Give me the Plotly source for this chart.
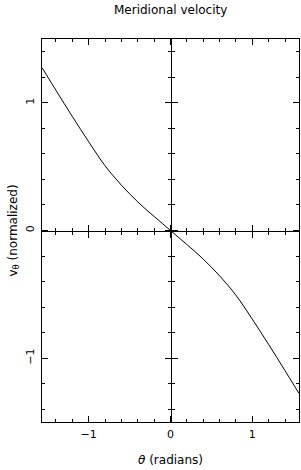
import plotly.graph_objects as go

theta = [-1.5708, -1.5, -1.4, -1.3, -1.2, -1.1, -1.0, -0.9, -0.8, -0.7, -0.6, -0.5,
         -0.4, -0.3, -0.2, -0.1, 0.0, 0.1, 0.2, 0.3, 0.4, 0.5, 0.6, 0.7, 0.8, 0.9,
         1.0, 1.1, 1.2, 1.3, 1.4, 1.5, 1.5708]
v_theta = [1.276, 1.202, 1.098, 0.995, 0.893, 0.793, 0.695, 0.598, 0.507, 0.428, 0.355, 0.287,
           0.224, 0.165, 0.11, 0.055, 0.0, -0.055, -0.11, -0.165, -0.224, -0.287, -0.355,
           -0.428, -0.507, -0.598, -0.695, -0.793, -0.893, -0.995, -1.098, -1.202, -1.276]

x_range = [-1.5708, 1.5708]
y_range = [-1.5, 1.5]
x_ticks = [-1, 0, 1]
x_ticklabels = ["\u22121", "0", "1"]
y_ticks = [-1, 0, 1]
y_ticklabels = ["\u22121", "0", "1"]

FONT = "DejaVu Sans, Liberation Sans, sans-serif"

fig = go.Figure()
fig.add_trace(go.Scatter(x=theta, y=v_theta, mode="lines",
                         line=dict(color="black", width=1, shape="spline", smoothing=1.0),
                         showlegend=False, hoverinfo="skip"))
# empty traces to host the central (zero) axes
for xa, ya in [("x2", "y"), ("x3", "y"), ("x", "y2"), ("x", "y3")]:
    fig.add_trace(go.Scatter(x=[], y=[], xaxis=xa, yaxis=ya, showlegend=False))

box = dict(showline=True, linecolor="black", linewidth=1, mirror="ticks",
           ticks="inside", ticklen=6, tickwidth=1, tickcolor="black",
           showgrid=False, zeroline=False, automargin=False,
           minor=dict(ticks="inside", ticklen=3, tickwidth=1, tickcolor="black", dtick=0.2, showgrid=False),
           tickfont=dict(family=FONT, size=11, color="black"))

center = dict(showline=True, linecolor="black", linewidth=1, ticklen=6, tickwidth=1,
              tickcolor="black", showgrid=False, zeroline=False, showticklabels=False,
              anchor="free", position=0.5, tickmode="array", automargin=False)

fig.update_layout(
    width=301, height=470,
    margin=dict(l=42, r=2, t=39, b=48, autoexpand=False),
    paper_bgcolor="white", plot_bgcolor="white",
    xaxis=dict(range=x_range, tickmode="array", tickvals=x_ticks, ticktext=x_ticklabels,
               ticklabelstandoff=2, **box),
    yaxis=dict(range=y_range, tickmode="array", tickvals=y_ticks, ticktext=y_ticklabels,
               tickangle=-90, ticklabelstandoff=3, **box),
    xaxis2=dict(overlaying="x", range=x_range, tickvals=x_ticks, ticks="outside",
                minor=dict(ticks="outside", ticklen=3, dtick=0.2, tickcolor="black", showgrid=False),
                **center),
    xaxis3=dict(overlaying="x", range=x_range, tickvals=x_ticks, ticks="inside",
                minor=dict(ticks="inside", ticklen=3, dtick=0.2, tickcolor="black", showgrid=False),
                **center),
    yaxis2=dict(overlaying="y", range=y_range, tickvals=y_ticks, ticks="outside",
                minor=dict(ticks="outside", ticklen=3, dtick=0.2, tickcolor="black", showgrid=False),
                **center),
    yaxis3=dict(overlaying="y", range=y_range, tickvals=y_ticks, ticks="inside",
                minor=dict(ticks="inside", ticklen=3, dtick=0.2, tickcolor="black", showgrid=False),
                **center),
    annotations=[
        dict(text="Meridional velocity", xref="paper", yref="paper", x=0.5, y=1,
             yshift=29, xanchor="center", yanchor="middle", showarrow=False,
             font=dict(family=FONT, size=12, color="black")),
        dict(text="<i>\u03b8</i> (radians)", xref="paper", yref="paper", x=0.5, y=0,
             yshift=-38, xanchor="center", yanchor="middle", showarrow=False,
             font=dict(family=FONT, size=12, color="black")),
        dict(text="v<sub>\u03b8</sub> (normalized)", xref="paper", yref="paper", x=0, y=0.5,
             xshift=-29, textangle=-90, xanchor="center", yanchor="middle", showarrow=False,
             font=dict(family=FONT, size=12, color="black")),
    ],
)

fig.write_html("out.html", config={"displayModeBar": False},
               post_script="document.body.style.margin='0';document.body.style.padding='0';")
